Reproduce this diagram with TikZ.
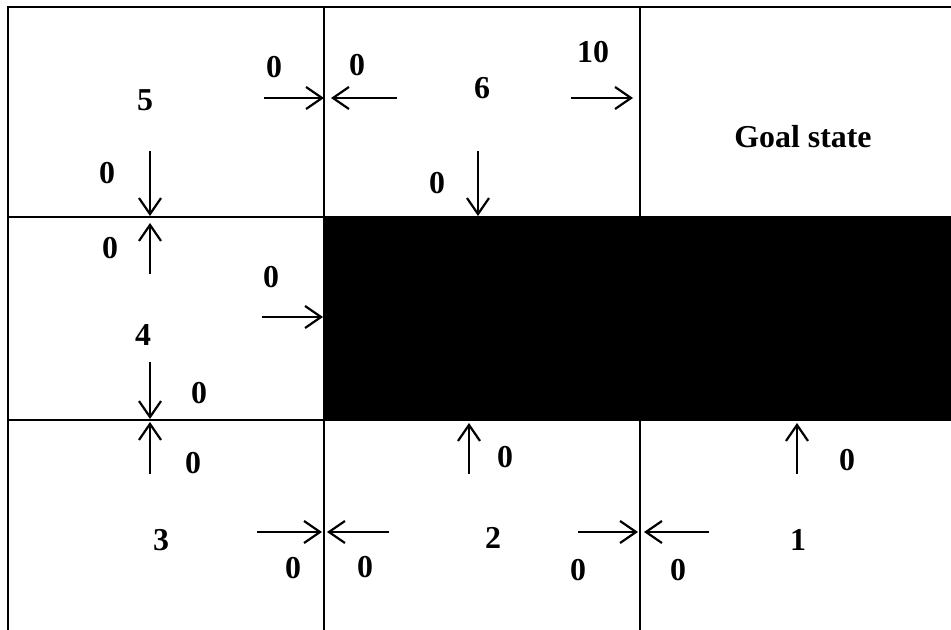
\documentclass[tikz,border=0pt]{standalone}
\usepackage{fontspec}
\setmainfont{Liberation Serif}
\usetikzlibrary{arrows.meta}
\begin{document}
\begin{tikzpicture}[x=1bp,y=-1bp,
  lbl/.style={font=\fontsize{32}{36}\selectfont\bfseries, inner sep=0pt},
  gridline/.style={line width=2.2bp},
  mv/.style={line width=2.2bp, -{Straight Barb[length=16bp,width=22bp,line width=2.2bp]}}]
\useasboundingbox (0,0) rectangle (951,630);
% wall
\fill[black] (324,216) rectangle (951,421);
% grid
\draw[gridline] (8,630) -- (8,7) -- (951,7);
\draw[gridline] (324,7) -- (324,630);
\draw[gridline] (640,7) -- (640,630);
\draw[gridline] (8,217) -- (324,217);
\draw[gridline] (8,420) -- (324,420);
% cell labels
\node[lbl] (c5) at (145,100) {5};
\node[lbl] (c6) at (482,88) {6};
\node[lbl] (goal) at (803,137) {Goal state};
\node[lbl] (c4) at (143,335) {4};
\node[lbl] (c3) at (161,540) {3};
\node[lbl] (c2) at (493,538) {2};
\node[lbl] (c1) at (798,540) {1};
% move arrows with rewards
\foreach \i/\sx/\sy/\ex/\ey/\lx/\ly/\t in {
  1/264/98/324/98/274/67/0,
  2/397/98/331/98/357/65/0,
  3/571/98/633/98/593/52/10,
  4/150/151/150/216/107/173/0,
  5/478/151/478/216/437/183/0,
  6/150/274/150/223/110/248/0,
  7/262/317/323/317/271/277/0,
  8/150/362/150/419/199/393/0,
  9/150/474/150/422/193/463/0,
  10/257/532/322/532/293/568/0,
  11/389/532/327/532/365/567/0,
  12/578/532/638/532/578/570/0,
  13/709/532/644/532/678/570/0,
  14/469/474/469/423/505/457/0,
  15/797/474/797/423/847/460/0}{
  \coordinate (s\i) at (\sx,\sy);
  \coordinate (e\i) at (\ex,\ey);
  \node[lbl] (r\i) at (\lx,\ly) {\t};
  \draw[mv] (s\i) -- (e\i);
}
\end{tikzpicture}
\end{document}
